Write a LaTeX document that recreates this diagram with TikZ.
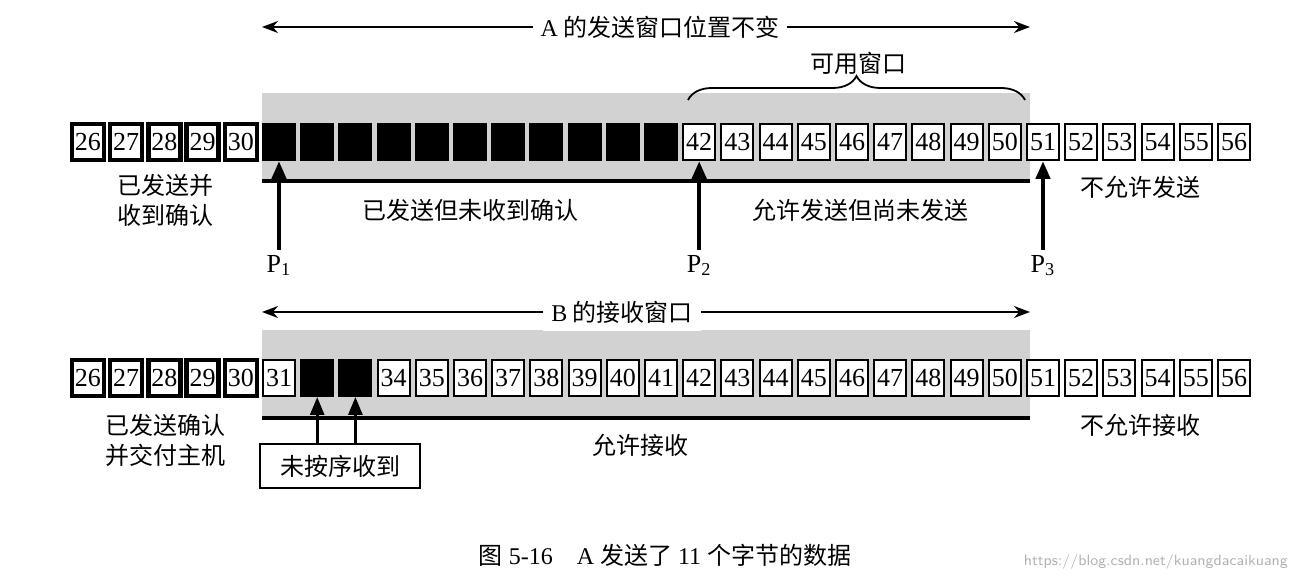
\documentclass[tikz,border=0pt]{standalone}
\usepackage{fontspec}
\setmainfont{Liberation Serif}
\newfontfamily\cjk{Noto Sans CJK SC}
\usetikzlibrary{decorations.pathreplacing,arrows.meta}
\begin{document}
\begin{tikzpicture}[x=0.5pt,y=-0.5pt,
  cell/.style={draw,line width=1pt,minimum width=16pt,minimum height=18pt,inner sep=0pt,font=\fontsize{13}{13}\selectfont},
  thick cell/.style={cell,line width=2.2pt},
  dark cell/.style={cell,fill=black},
  lbl/.style={font=\cjk\fontsize{12}{15}\selectfont,align=center,inner sep=1pt},
  ptr/.style={line width=2.2pt,-{Triangle[length=9pt,width=7pt]}},
  span/.style={line width=0.8pt,{Stealth[length=8pt]}-{Stealth[length=8pt]}}]
\useasboundingbox (0,0) rectangle (1302,576);
% bands
\fill[gray!35] (262,93) rectangle (1030,181);
\draw[line width=1.6pt] (262,181) -- (1030,181);
\fill[gray!35] (262,330) rectangle (1030,418);
\draw[line width=1.6pt] (262,418) -- (1030,418);
% top row
\foreach \i in {0,...,30}{
  \pgfmathtruncatemacro{\n}{26+\i}
  \pgfmathsetmacro{\xx}{88+38.2*\i}
  \ifnum\i<5 \node[thick cell] (t\n) at (\xx,142) {\n};
  \else\ifnum\n<42 \node[dark cell] (t\n) at (\xx,142) {};
  \else \node[cell,fill=white] (t\n) at (\xx,142) {\n};\fi\fi
}
% bottom row
\foreach \i in {0,...,30}{
  \pgfmathtruncatemacro{\n}{26+\i}
  \pgfmathsetmacro{\xx}{88+38.2*\i}
  \ifnum\i<5 \node[thick cell] (b\n) at (\xx,378) {\n};
  \else\ifnum\n=32 \node[dark cell] (b\n) at (\xx,378) {};
  \else\ifnum\n=33 \node[dark cell] (b\n) at (\xx,378) {};
  \else \node[cell,fill=white] (b\n) at (\xx,378) {\n};\fi\fi\fi
}
% top span arrow
\coordinate (tl) at (262,27); \coordinate (tr) at (1030,27);
\draw[span] (tl) -- (tr);
\node[lbl,fill=white,inner sep=4pt] (ta) at (660,27) {{\rmfamily A} 的发送窗口位置不变};
% brace
\coordinate (bl) at (688,100); \coordinate (br) at (1025,100);
\draw[line width=0.9pt,decorate,decoration={brace,amplitude=12pt}] (bl) -- (br);
\node[lbl] (ky) at (858,63) {可用窗口};
% pointers
\coordinate (p1) at (t31.south |- 0,250); \coordinate (p2) at (t42.south |- 0,250); \coordinate (p3) at (t51.south |- 0,250);
\draw[ptr] (p1) -- (t31.south);
\draw[ptr] (p2) -- (t42.south);
\draw[ptr] (p3) -- (t51.south);
\node[font=\fontsize{13}{13}\selectfont,below=-1pt] (l1) at (p1) {P\textsubscript{1}};
\node[font=\fontsize{13}{13}\selectfont,below=-1pt] (l2) at (p2) {P\textsubscript{2}};
\node[font=\fontsize{13}{13}\selectfont,below=-1pt] (l3) at (p3) {P\textsubscript{3}};
\node[lbl] (a1) at (165,200) {已发送并\\收到确认};
\node[lbl] (a2) at (470,210) {已发送但未收到确认};
\node[lbl] (a3) at (860,210) {允许发送但尚未发送};
\node[lbl] (a4) at (1140,187) {不允许发送};
% bottom span
\coordinate (ul) at (262,312); \coordinate (ur) at (1030,312);
\draw[span] (ul) -- (ur);
\node[lbl,fill=white,inner sep=4pt] (ba) at (622,312) {{\rmfamily B} 的接收窗口};
\node[lbl,draw,line width=1pt,minimum width=80pt,minimum height=22pt] (wx) at (340,466) {未按序收到};
\draw[ptr,line width=1.4pt] (b32.south |- wx.north) -- (b32.south);
\draw[ptr,line width=1.4pt] (b33.south |- wx.north) -- (b33.south);
\node[lbl] (c1) at (165,440) {已发送确认\\并交付主机};
\node[lbl] (c2) at (640,445) {允许接收};
\node[lbl] (c3) at (1140,425) {不允许接收};
% caption
\node[font=\fontsize{12}{12}\selectfont] (cap) at (665,555) {{\cjk 图} 5-16\quad A {\cjk 发送了} 11 {\cjk 个字节的数据}};
\node[font=\sffamily\fontsize{7.5}{8}\selectfont,text=gray!60,anchor=east] (wm) at (1295,562) {https://blog.csdn.net/kuangdacaikuang};
\end{tikzpicture}
\end{document}
